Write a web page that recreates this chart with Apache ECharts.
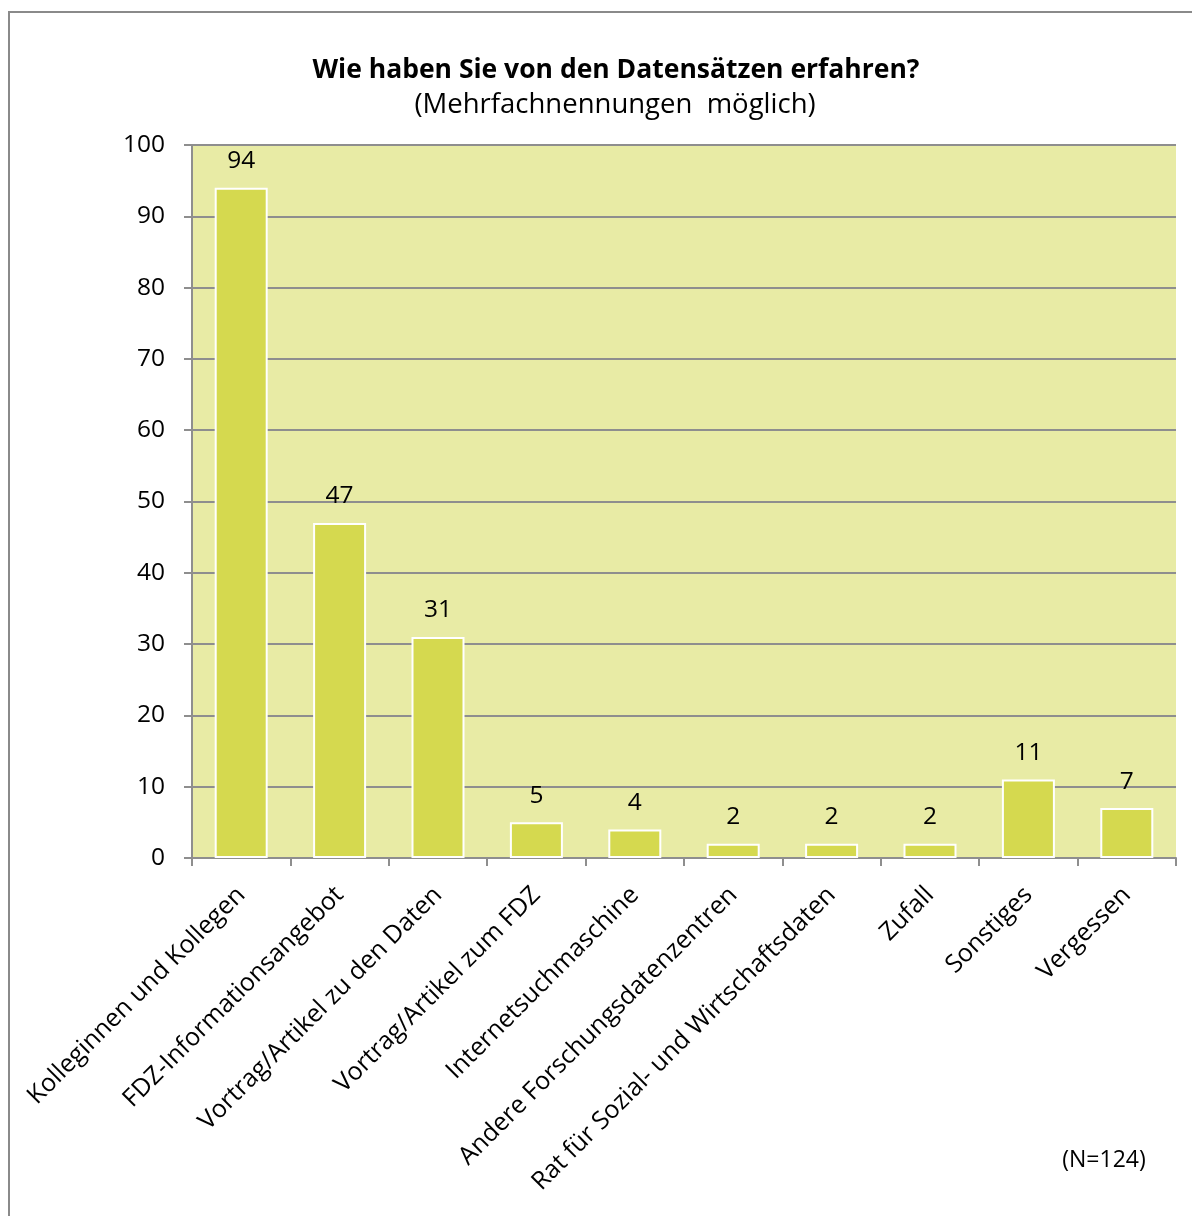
<!DOCTYPE html>
<html>
<head>
<meta charset="utf-8">
<script src="https://cdn.jsdelivr.net/npm/echarts@6/dist/echarts.min.js"></script>
<style>
  html, body { margin: 0; padding: 0; background: #ffffff; }
  #chart { width: 1192px; height: 1216px; }
</style>
</head>
<body>
<div id="chart"></div>
<script>
// Survey: how respondents learned about the datasets (multiple answers possible)
const categories = [
  'Kolleginnen und Kollegen',
  'FDZ-Informationsangebot',
  'Vortrag/Artikel zu den Daten',
  'Vortrag/Artikel zum FDZ',
  'Internetsuchmaschine',
  'Andere Forschungsdatenzentren',
  'Rat für Sozial- und Wirtschaftsdaten',
  'Zufall',
  'Sonstiges',
  'Vergessen'
];
const counts = [94, 47, 31, 5, 4, 2, 2, 2, 11, 7];
const yTicks = { min: 0, max: 100, step: 10 };

const titleText = 'Wie haben Sie von den Datensätzen erfahren?';
const subtitleText = '(Mehrfachnennungen  möglich)';
const sampleNote = '(N=124)';

const FONT = '"Open Sans", Lato, sans-serif';
const GRID_GRAY = '#8e8e8e';

const chart = echarts.init(document.getElementById('chart'), null, { renderer: 'canvas' });

chart.setOption({
  backgroundColor: '#ffffff',
  animation: false,
  textStyle: { fontFamily: FONT },
  grid: {
    left: 192, right: 16, top: 145, bottom: 358,
    show: true, backgroundColor: '#e8eba5', borderWidth: 0
  },
  xAxis: {
    type: 'category',
    data: categories,
    axisLine: { show: true, lineStyle: { color: GRID_GRAY, width: 2 } },
    axisTick: { show: true, length: 8, lineStyle: { color: GRID_GRAY, width: 2 } },
    axisLabel: {
      interval: 0, rotate: 45, margin: 33,
      color: '#000', fontSize: 25, fontFamily: FONT
    }
  },
  yAxis: {
    type: 'value',
    min: yTicks.min, max: yTicks.max, interval: yTicks.step,
    axisLine: { show: true, lineStyle: { color: GRID_GRAY, width: 2 } },
    axisTick: { show: true, length: 8, lineStyle: { color: GRID_GRAY, width: 2 } },
    splitLine: { show: true, lineStyle: { color: GRID_GRAY, width: 2 } },
    axisLabel: { margin: 27, color: '#000', fontSize: 24.5, fontFamily: FONT }
  },
  series: [{
    type: 'bar',
    data: counts,
    barWidth: 53,
    itemStyle: { color: '#d5d94f', borderColor: '#ffffff', borderWidth: 2 },
    label: {
      show: true, position: 'top', distance: 14,
      color: '#000', fontSize: 24.5, fontFamily: FONT
    }
  }],
  graphic: [
    {
      type: 'rect', silent: true,
      shape: { x: 9, y: 12, width: 1200, height: 1220 },
      style: { fill: 'none', stroke: '#8a8a8a', lineWidth: 2 }
    },
    {
      type: 'text', silent: true,
      x: 616, y: 70,
      style: {
        text: titleText, align: 'center', verticalAlign: 'middle',
        font: 'bold 26.5px ' + FONT, fill: '#000'
      }
    },
    {
      type: 'text', silent: true,
      x: 615, y: 105,
      style: {
        text: subtitleText, align: 'center', verticalAlign: 'middle',
        font: '27.5px ' + FONT, fill: '#000'
      }
    },
    {
      type: 'text', silent: true,
      x: 1104, y: 1160,
      style: {
        text: sampleNote, align: 'center', verticalAlign: 'middle',
        font: '23px ' + FONT, fill: '#000'
      }
    }
  ]
});
</script>
</body>
</html>
